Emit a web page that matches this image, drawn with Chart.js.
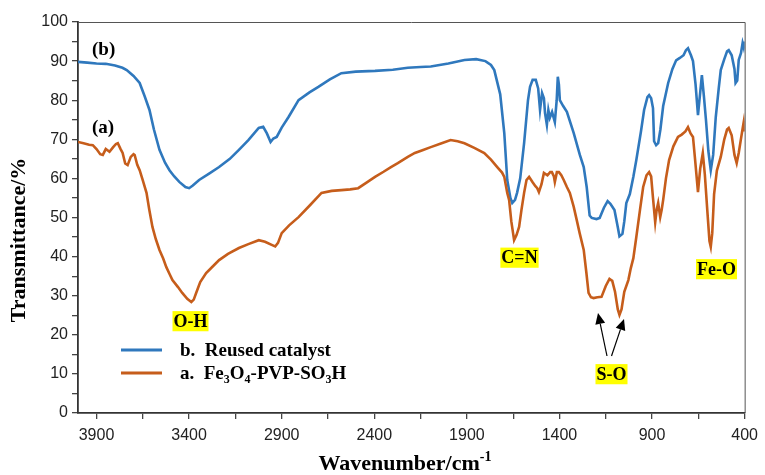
<!DOCTYPE html>
<html>
<head>
<meta charset="utf-8">
<script src="https://cdn.jsdelivr.net/npm/chart.js@4/dist/chart.umd.min.js"></script>
<style>
    html, body { margin: 0; padding: 0; background: #fff; }
    #wrap { width: 765px; height: 475px; }
</style>
</head>
<body>
<div id="wrap"><canvas id="ftir"></canvas></div>
<script>
const BLUE = '#2F78BD';
const ORANGE = '#C65D1B';

// (b) Reused catalyst
const reusedWave = [4000, 3950, 3900, 3850, 3800, 3760, 3737, 3700, 3667, 3640, 3614, 3590, 3560, 3530, 3506, 3480, 3453, 3420, 3400, 3380,
    3346, 3290, 3238, 3180, 3131, 3080, 3024, 3000, 2980, 2960, 2945, 2927, 2900, 2863, 2809, 2750, 2702, 2640, 2578, 2500,
    2396, 2300, 2219, 2150, 2095, 2000, 1913, 1850, 1800, 1770, 1752, 1720, 1698, 1682, 1665, 1655, 1640, 1629, 1612, 1591,
    1570, 1559, 1545, 1528, 1515, 1505, 1494, 1484, 1478, 1468, 1460, 1452, 1440, 1425, 1415, 1409, 1403, 1398, 1380, 1360,
    1323, 1290, 1269, 1253, 1237, 1226, 1200, 1183, 1160, 1140, 1125, 1103, 1085, 1076, 1060, 1050, 1039, 1020, 1001, 985,
    960, 943, 925, 916, 905, 895, 889, 878, 867, 855, 840, 813, 790, 770, 750, 730, 717, 706, 690, 679,
    665, 652, 640, 631, 620, 609, 596, 583, 570, 556, 540, 529, 510, 495, 486, 470, 455, 449, 440, 432,
    420, 411, 405, 400];
const reusedTrans = [89.8, 89.6, 89.4, 89.3, 88.9, 88.3, 87.7, 86.2, 84.4, 81, 77.5, 72.5, 67.3, 64, 62.1, 60.5, 59.1, 57.8, 57.5, 58.2,
    59.6, 61.3, 62.9, 65, 67.3, 69.8, 72.9, 73.2, 71.5, 69.3, 70.2, 70.6, 73, 75.7, 80, 82, 83.4, 85.3, 86.9, 87.3,
    87.5, 87.8, 88.3, 88.5, 88.6, 89.4, 90.3, 90.5, 90, 89, 87.7, 81.5, 71.6, 59.6, 55, 53.7, 54.5, 56.3, 60, 69,
    80, 83.4, 85.2, 85.2, 83, 77.5, 81.8, 80.5, 76.7, 73.7, 77.5, 75.5, 77, 74.4, 80, 86, 84, 80, 78.5, 77,
    71.6, 66, 62.9, 57.8, 50.5, 49.9, 49.6, 49.9, 52.5, 54.2, 53.5, 51.9, 47.5, 45.2, 45.8, 49, 53.7, 56, 60.4, 64.7,
    72, 77.5, 80.8, 81.3, 80.5, 78, 69.5, 68.5, 69, 72.5, 78.5, 84.4, 88, 90.2, 90.8, 91.5, 92.8, 93.3, 91.5, 90,
    84, 76.2, 82, 86.4, 81, 75, 67, 62.1, 66, 75.7, 83, 87.7, 90.5, 92.5, 92.8, 91.5, 88, 84.4, 85, 90.3,
    92, 94.6, 93.5, 95];

// (a) Fe3O4-PVP-SO3H
const freshWave = [4000, 3970, 3940, 3920, 3900, 3880, 3866, 3850, 3830, 3810, 3795, 3785, 3770, 3759, 3745, 3732, 3715, 3700, 3694, 3680,
    3667, 3650, 3630, 3615, 3598, 3580, 3560, 3540, 3523, 3505, 3490, 3460, 3437, 3410, 3388, 3375, 3362, 3340, 3308, 3270,
    3238, 3190, 3131, 3080, 3024, 2990, 2954, 2935, 2920, 2900, 2860, 2809, 2750, 2685, 2630, 2578, 2530, 2487, 2440, 2396,
    2350, 2310, 2273, 2219, 2181, 2140, 2095, 2040, 1988, 1950, 1913, 1860, 1806, 1770, 1736, 1710, 1698, 1682, 1672, 1660,
    1645, 1632, 1618, 1605, 1591, 1578, 1564, 1545, 1530, 1520, 1511, 1497, 1484, 1465, 1450, 1441, 1430, 1425, 1414, 1403,
    1390, 1377, 1360, 1344, 1323, 1307, 1291, 1269, 1255, 1243, 1230, 1216, 1195, 1173, 1150, 1130, 1115, 1100, 1085, 1076,
    1065, 1050, 1028, 1015, 1001, 985, 965, 948, 930, 916, 905, 895, 883, 875, 867, 856, 848, 840, 825, 808,
    785, 760, 740, 720, 706, 692, 679, 668, 652, 640, 626, 615, 602, 590, 583, 575, 565, 550, 529, 510,
    495, 486, 470, 455, 443, 432, 421, 410, 405, 400];
const freshTrans = [69.3, 69, 68.6, 68.5, 67.5, 66.2, 66, 67.5, 66.8, 68, 68.8, 69, 67.5, 66.5, 63.8, 63.4, 65.5, 66.2, 66, 63.5,
    62.1, 59.5, 56.3, 52, 47.6, 44.5, 41.7, 39.5, 37.3, 35.5, 34, 32.2, 30.7, 29.2, 28.4, 29, 30.7, 33.5, 35.8, 37.6,
    39.1, 40.7, 42.2, 43.2, 44.2, 43.8, 43, 42.6, 43.5, 46, 48, 50.1, 53, 56.3, 56.8, 57, 57.2, 57.5, 59, 60.4,
    61.7, 62.9, 63.9, 65.5, 66.5, 67.2, 68, 68.9, 69.8, 69.5, 69, 67.8, 66.5, 64.8, 62.9, 61.5, 60.4, 56.3, 54.5, 49,
    44.2, 45.5, 47.6, 52, 56.3, 59.6, 60.4, 59, 58, 57.5, 56.5, 58.5, 61.4, 60.8, 61.6, 61.6, 60.5, 59.1, 61.6, 61.6,
    60.8, 59.6, 57.8, 56.3, 52.7, 49.4, 46, 41.7, 36, 30.7, 29.6, 29.4, 29.6, 29.7, 32.5, 34.3, 33.8, 31, 26.5, 25.1,
    26.5, 31, 34, 37, 39.6, 45, 52, 57.8, 60.8, 61.6, 60.5, 55, 48.8, 52, 53.7, 50.1, 52, 54.5, 60, 64.7,
    68.2, 70.6, 71.2, 72, 73.1, 71.5, 70.6, 65, 56.5, 62.5, 66.5, 61, 52, 44, 42.5, 46, 56, 62, 65.5, 70,
    72.5, 72.9, 71, 66, 63.9, 66.5, 69.8, 73, 74.4, 72];

const xMajorTicks = [3900, 3400, 2900, 2400, 1900, 1400, 900, 400];
const xMinorTicks = [3650, 3150, 2650, 2150, 1650, 1150, 650];
const yTicks = [0, 10, 20, 30, 40, 50, 60, 70, 80, 90, 100];
const yMinorTicks = [5, 15, 25, 35, 45, 55, 65, 75, 85, 95];

const toPoints = (xs, ys) => xs.map((x, i) => ({ x, y: ys[i] }));

const SERIF = '"Liberation Serif", "Times New Roman", serif';
const SANS = '"Liberation Sans", Arial, sans-serif';

// draws text made of parts, some of them sub/superscript
const drawRich = (ctx, parts, x, y, size, align = 'left') => {
    const small = Math.round(size * 0.62);
    const widthOf = (p) => {
        ctx.font = `bold ${p.sub || p.sup ? small : size}px ${SERIF}`;
        return ctx.measureText(p.t).width;
    };
    const total = parts.reduce((s, p) => s + widthOf(p), 0);
    let cx = align === 'center' ? x - total / 2 : x;
    ctx.textBaseline = 'alphabetic';
    ctx.textAlign = 'left';
    parts.forEach((p) => {
        const w = widthOf(p);
        let dy = 0;
        if (p.sub) dy = size * 0.22;
        if (p.sup) dy = -size * 0.42;
        ctx.fillText(p.t, cx, y + dy);
        cx += w;
    });
};

const tag = (ctx, text, cx, cy, size = 18) => {
    ctx.font = `bold ${size}px ${SERIF}`;
    const w = ctx.measureText(text).width;
    ctx.fillStyle = '#FFFF00';
    ctx.fillRect(cx - w / 2 - 1, cy - size * 0.55, w + 2, size * 1.12);
    ctx.fillStyle = '#000';
    ctx.textAlign = 'center';
    ctx.textBaseline = 'middle';
    ctx.fillText(text, cx, cy + 1);
};

const arrow = (ctx, x1, y1, x2, y2) => {
    const ang = Math.atan2(y2 - y1, x2 - x1);
    const len = 11;
    const half = 5;
    const bx = x2 - len * Math.cos(ang);
    const by = y2 - len * Math.sin(ang);
    ctx.strokeStyle = '#000';
    ctx.lineWidth = 1.2;
    ctx.beginPath();
    ctx.moveTo(x1, y1);
    ctx.lineTo(bx, by);
    ctx.stroke();
    ctx.fillStyle = '#000';
    ctx.beginPath();
    ctx.moveTo(x2, y2);
    ctx.lineTo(bx + half * Math.sin(ang), by - half * Math.cos(ang));
    ctx.lineTo(bx - half * Math.sin(ang), by + half * Math.cos(ang));
    ctx.closePath();
    ctx.fill();
};

const decorations = {
    id: 'decorations',
    afterDraw(chart) {
        const { ctx, chartArea: a } = chart;
        ctx.save();

        // top and right frame
        ctx.strokeStyle = '#555';
        ctx.lineWidth = 1;
        ctx.beginPath();
        ctx.moveTo(a.left, a.top + 0.5);
        ctx.lineTo(a.right + 0.5, a.top + 0.5);
        ctx.lineTo(a.right + 0.5, a.bottom);
        ctx.stroke();

        ctx.fillStyle = '#000';
        ctx.font = `bold 19px ${SERIF}`;
        ctx.textAlign = 'left';
        ctx.textBaseline = 'middle';
        ctx.fillText('(b)', 92, 50);
        ctx.fillText('(a)', 92, 128);

        tag(ctx, 'O-H', 190.5, 321);
        tag(ctx, 'C=N', 519.5, 257.5);
        tag(ctx, 'Fe-O', 716.5, 269);
        tag(ctx, 'S-O', 611.5, 374);

        arrow(ctx, 607, 356, 598, 313);
        arrow(ctx, 611.5, 356, 624, 319);

        // legend
        ctx.lineWidth = 3;
        ctx.strokeStyle = BLUE;
        ctx.beginPath();
        ctx.moveTo(121, 350);
        ctx.lineTo(162, 350);
        ctx.stroke();
        ctx.strokeStyle = ORANGE;
        ctx.beginPath();
        ctx.moveTo(121, 373);
        ctx.lineTo(162, 373);
        ctx.stroke();

        ctx.fillStyle = '#000';
        drawRich(ctx, [{ t: 'b.  Reused catalyst' }], 180, 356, 19);
        drawRich(ctx, [
            { t: 'a.  Fe' }, { t: '3', sub: true }, { t: 'O' }, { t: '4', sub: true },
            { t: '-PVP-SO' }, { t: '3', sub: true }, { t: 'H' },
        ], 180, 379, 19);

        // axis titles
        drawRich(ctx, [{ t: 'Wavenumber/cm' }, { t: '-1', sup: true }], 405, 470, 22, 'center');

        ctx.translate(25, 240);
        ctx.rotate(-Math.PI / 2);
        drawRich(ctx, [{ t: 'Transmittance/%' }], 0, 0, 22, 'center');

        ctx.restore();
    },
};

const lineSet = (label, points, color) => ({
    label,
    data: points,
    borderColor: color,
    backgroundColor: color,
    borderWidth: 2.6,
    pointRadius: 0,
    tension: 0,
    fill: false,
});

new Chart(document.getElementById('ftir'), {
    type: 'line',
    data: {
        datasets: [
            lineSet('a. Fe3O4-PVP-SO3H', toPoints(freshWave, freshTrans), ORANGE),
            lineSet('b. Reused catalyst', toPoints(reusedWave, reusedTrans), BLUE),
        ],
    },
    options: {
        responsive: true,
        maintainAspectRatio: false,
        animation: false,
        layout: { padding: { top: 22, right: 16, left: 0, bottom: 0 } },
        plugins: {
            legend: { display: false },
            tooltip: { enabled: false },
        },
        scales: {
            x: {
                type: 'linear',
                reverse: true,
                min: 400,
                max: 4000,
                afterBuildTicks: (scale) => {
                    scale.ticks = [...xMajorTicks, ...xMinorTicks].sort((p, q) => q - p).map((value) => ({ value }));
                },
                afterFit: (scale) => { scale.height = 62; },
                ticks: {
                    autoSkip: false,
                    maxRotation: 0,
                    padding: 7,
                    color: '#222',
                    font: { family: SANS, size: 16 },
                    callback: (v) => (xMajorTicks.includes(v) ? String(v) : ''),
                },
                grid: { drawOnChartArea: false, drawTicks: true, tickLength: 6, color: '#444', lineWidth: 1.3 },
                border: { display: true, color: '#333', width: 1.8 },
            },
            y: {
                min: 0,
                max: 100,
                afterBuildTicks: (scale) => {
                    scale.ticks = [...yTicks, ...yMinorTicks].sort((p, q) => p - q).map((value) => ({ value }));
                },
                afterFit: (scale) => { scale.width = 78; },
                ticks: {
                    autoSkip: false,
                    padding: 4,
                    color: '#222',
                    font: { family: SANS, size: 16 },
                    callback: (v) => (yTicks.includes(v) ? String(v) : ''),
                },
                grid: { drawOnChartArea: false, drawTicks: true, tickLength: 6, color: '#444', lineWidth: 1.3 },
                border: { display: true, color: '#333', width: 1.8 },
            },
        },
    },
    plugins: [decorations],
});
</script>
</body>
</html>
